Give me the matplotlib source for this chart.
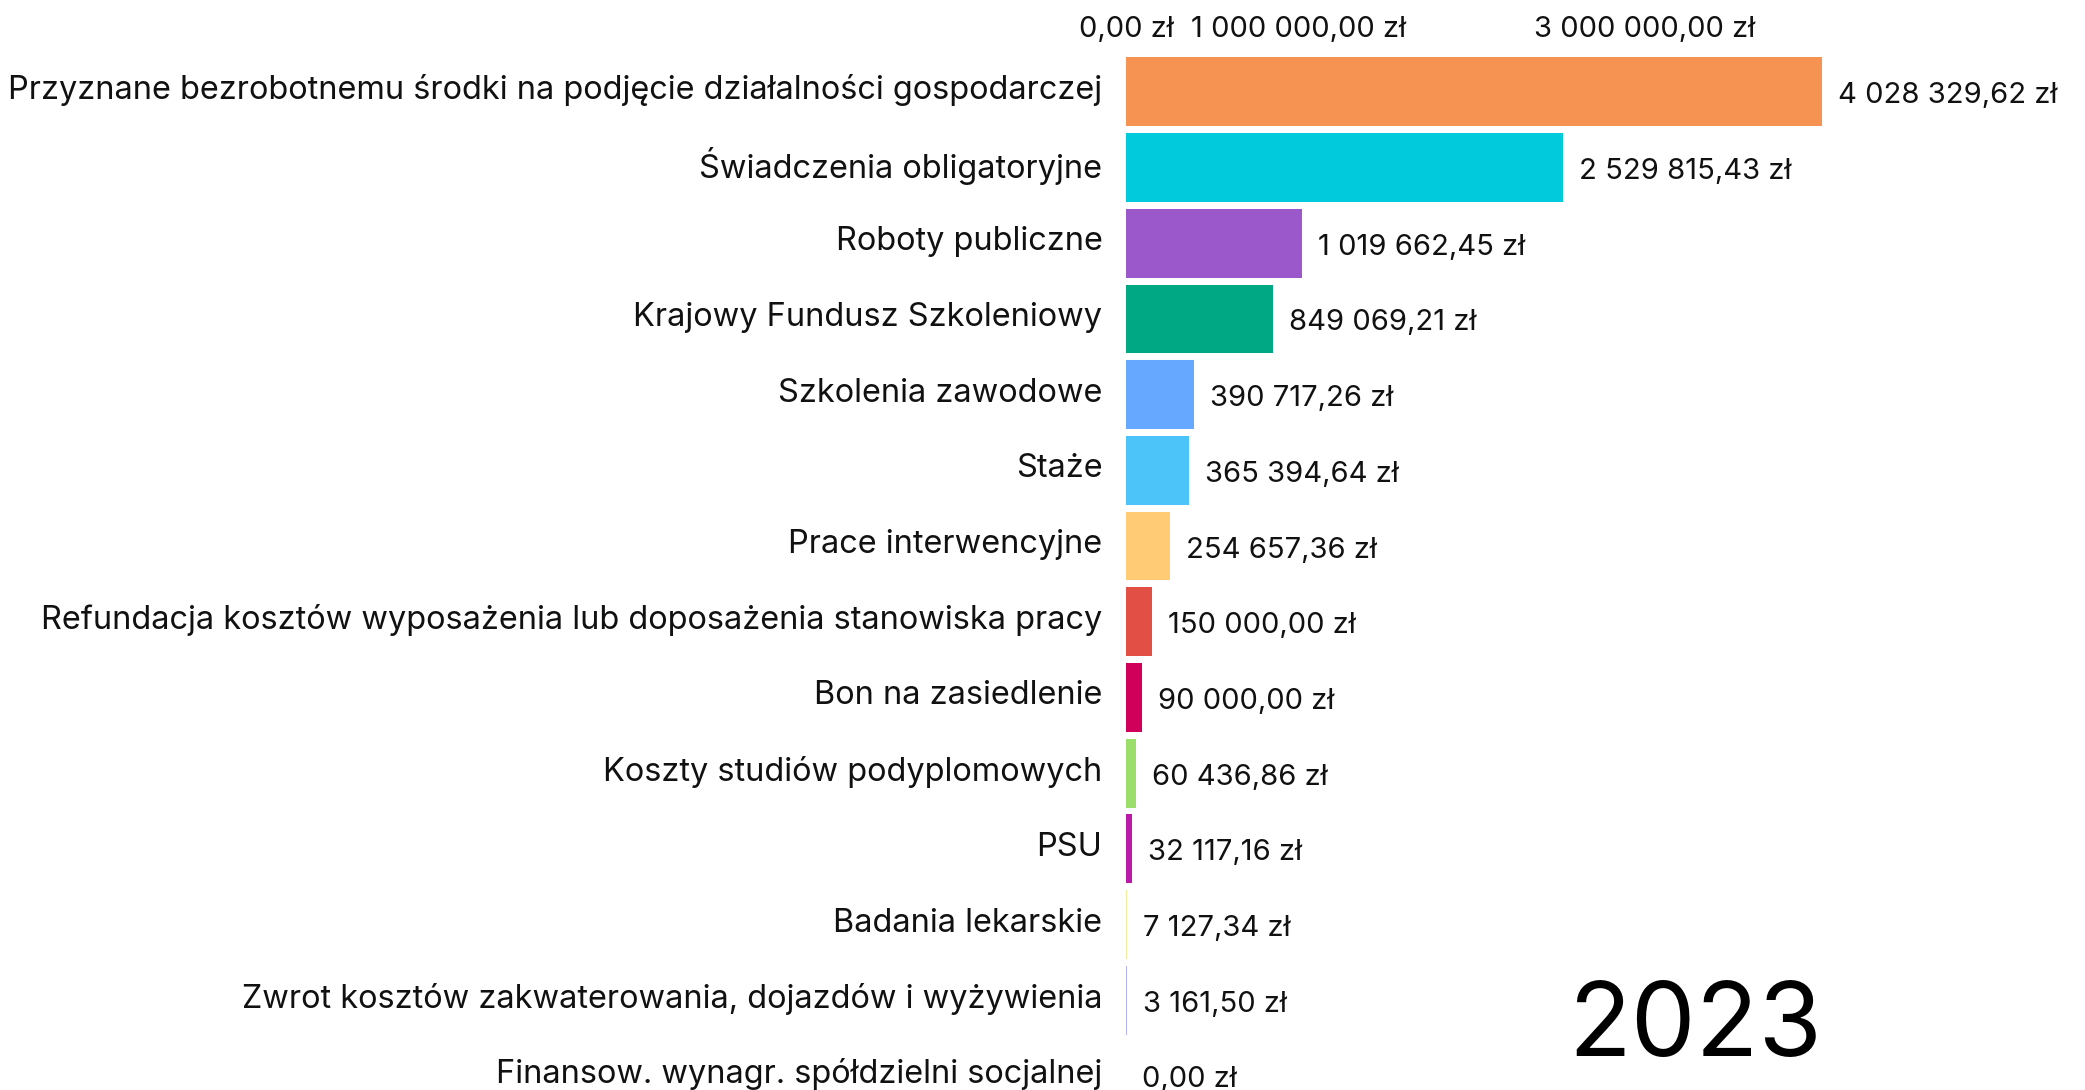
import matplotlib
matplotlib.use("Agg")
import matplotlib.pyplot as plt
from matplotlib.ticker import FixedLocator, FuncFormatter
from matplotlib.transforms import ScaledTranslation

plt.rcParams['font.family'] = ['Inter', 'DejaVu Sans']

categories = [
    "Przyznane bezrobotnemu środki na podjęcie działalności gospodarczej",
    "Świadczenia obligatoryjne",
    "Roboty publiczne",
    "Krajowy Fundusz Szkoleniowy",
    "Szkolenia zawodowe",
    "Staże",
    "Prace interwencyjne",
    "Refundacja kosztów wyposażenia lub doposażenia stanowiska pracy",
    "Bon na zasiedlenie",
    "Koszty studiów podyplomowych",
    "PSU",
    "Badania lekarskie",
    "Zwrot kosztów zakwaterowania, dojazdów i wyżywienia",
    "Finansow. wynagr. spółdzielni socjalnej",
]
values = [4028329.62, 2529815.43, 1019662.45, 849069.21, 390717.26, 365394.64,
          254657.36, 150000.00, 90000.00, 60436.86, 32117.16, 7127.34, 3161.50, 0.00]
colors = ["#F79352", "#00CADB", "#9A58CB", "#00A884", "#66A8FF", "#4CC4FA",
          "#FFCB74", "#E14F45", "#D0005A", "#9BDE6B", "#BB19A7", "#EFEC9A",
          "#B3B3F0", "#CCCCCC"]
year_label = "2023"
tick_values = [0, 1000000, 3000000]


def fmt(v):
    s = f"{v:,.2f}"
    intpart, dec = s.split(".")
    return intpart.replace(",", " ") + "," + dec + " zł"


W, H = 2085, 1090
fig = plt.figure(figsize=(W / 100, H / 100), dpi=100)
left_px = 1126
top_px = 54
ax = fig.add_axes([left_px / W, 0, 1 - left_px / W, 1 - top_px / H])
row_px = 75.7
px_per_unit = 172.8 / 1e6
ax.set_xlim(0, (W - left_px) / px_per_unit)
ax.set_ylim(-0.5 + (H - top_px) / row_px, -0.5)

ypos = list(range(len(categories)))
ax.barh(ypos, values, height=0.91, color=colors, edgecolor='none')

for y, v in zip(ypos, values):
    ax.annotate(fmt(v), xy=(v, y), xytext=(16, -4), textcoords='offset pixels',
                ha='left', va='center', fontsize=21, color='#111111')

ax.set_yticks(ypos)
ax.set_yticklabels(categories, fontsize=23.4, color='#111111')
ax.tick_params(axis='y', length=0, pad=17)
shift = ScaledTranslation(0, 5 / 100, fig.dpi_scale_trans)
for lab in ax.get_yticklabels():
    lab.set_transform(lab.get_transform() + shift)

ax.xaxis.tick_top()
ax.xaxis.set_major_locator(FixedLocator(tick_values))
ax.xaxis.set_major_formatter(FuncFormatter(lambda v, p: fmt(v)))
ax.tick_params(axis='x', length=0, pad=8, labelsize=21, colors='#111111')

for s in ax.spines.values():
    s.set_visible(False)

ax.text(values[0], 12.38, year_label, ha='right', va='center', fontsize=74,
        color='#000000')

fig.savefig("out.png", dpi=100)
